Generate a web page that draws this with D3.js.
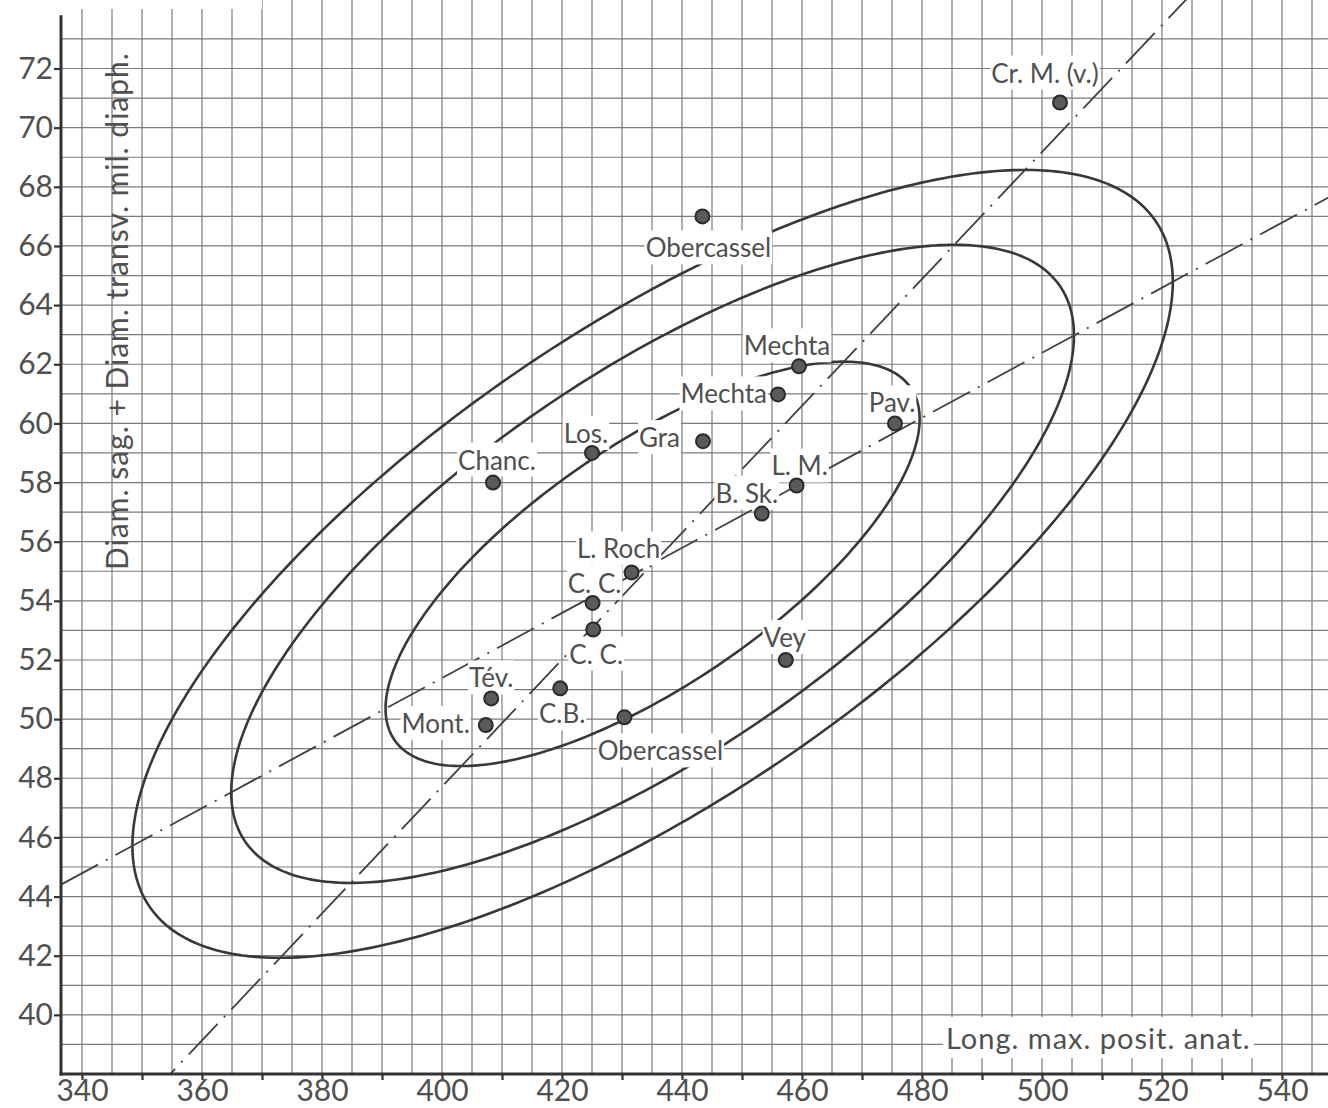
<!DOCTYPE html>
<html>
<head>
<meta charset="utf-8">
<script src="https://cdn.jsdelivr.net/npm/d3@7"></script>
<style>
	body { margin: 0; background: #fff; }
	text { font-family: Lato, "Open Sans", sans-serif; fill: #505050; }
</style>
</head>
<body>
<svg id="chart"></svg>
<script>

	// values
	let names = ["Cr. M. (v.)", "Obercassel", "Mechta", "Mechta", "Pav.", "Gra", "Los.", "Chanc.", "L. M.", "B. Sk.",
		"L. Roch", "C. C.", "C. C.", "Vey", "C.B.", "Tév.", "Mont.", "Obercassel"]
	let longMax = [503, 443.4, 459.5, 456, 475.5, 443.5, 425, 408.5, 459.1, 453.3,
		431.6, 425.1, 425.2, 457.3, 419.7, 408.2, 407.3, 430.4]
	let diamSum = [70.85, 67, 61.93, 60.98, 60, 59.4, 59, 58, 57.9, 56.95,
		54.96, 53.93, 53.03, 52, 51.04, 50.7, 49.8, 50.06]

	// ellipses: mean, sd, correlation, and the three k multipliers
	let meanX = 435.1, meanY = 55.25
	let sdX = 28.9, sdY = 4.44
	let corr = 0.716
	let kValues = [1.54, 2.43, 3.0]

	let xTicks = d3.range(340, 541, 10)
	let yTicks = d3.range(40, 73, 2)
	let xTitle = "Long. max. posit. anat."
	let yTitle = "Diam. sag. + Diam. transv. mil. diaph."

	// label placement next to each dot: dx, dy, anchor (layout only)
	let labelPos = [[-15, -20, "middle"], [6, 41, "middle"], [-12, -11, "middle"], [-11, 9, "end"], [-3, -11, "middle"],
		[-23, 6, "end"], [-6, -10, "middle"], [4, -13, "middle"], [3, -10, "middle"], [-15, -11, "middle"],
		[-13, -14, "middle"], [2, -10, "middle"], [3, 34, "middle"], [-1, -13, "middle"], [2, 35, "middle"],
		[0, -11, "middle"], [-16, 8, "end"], [36, 43, "middle"]]

	let width = 1328, height = 1108
	let left = 61, bottom = 1074

	let chart = d3.select("#chart").attr("width", width).attr("height", height)

	let xScale = d3.scaleLinear().domain([336.5, 548]).range([left, left + 211.5 * 6])
	let yScale = d3.scaleLinear().domain([38, 74.3]).range([bottom, 0.5])

	chart.append("clipPath").attr("id", "plot")
		.append("rect").attr("x", left).attr("y", 0).attr("width", width - left).attr("height", bottom)

	// grid
	let grid = chart.append("g").attr("stroke", "#7a7a7a").attr("stroke-width", 1.2)
	grid.selectAll("line.v").data(d3.range(340, 548, 5)).enter().append("line")
		.attr("x1", d => xScale(d)).attr("x2", d => xScale(d))
		.attr("y1", 0).attr("y2", bottom)
	grid.selectAll("line.h").data(d3.range(39, 74, 1)).enter().append("line")
		.attr("x1", left).attr("x2", width)
		.attr("y1", d => yScale(d)).attr("y2", d => yScale(d))

	let plot = chart.append("g").attr("clip-path", "url(#plot)")

	// concentric ellipses
	let ts = d3.range(0, 2 * Math.PI, Math.PI / 180)
	let ellipseLine = d3.line()
		.x(d => xScale(d[0])).y(d => yScale(d[1]))
		.curve(d3.curveLinearClosed)
	kValues.forEach(function(k){
		let pts = ts.map(t => [meanX + k * sdX * Math.cos(t),
			meanY + k * sdY * (corr * Math.cos(t) + Math.sqrt(1 - corr * corr) * Math.sin(t))])
		plot.append("path").attr("d", ellipseLine(pts))
			.attr("fill", "none").attr("stroke", "#383838").attr("stroke-width", 2.6)
	})

	// the two regression lines
	let slopes = [corr * sdY / sdX, sdY / (corr * sdX)]
	slopes.forEach(function(b){
		let xs = xScale.domain()
		plot.append("line")
			.attr("x1", xScale(xs[0])).attr("y1", yScale(meanY + b * (xs[0] - meanX)))
			.attr("x2", xScale(xs[1])).attr("y2", yScale(meanY + b * (xs[1] - meanX)))
			.attr("stroke", "#404040").attr("stroke-width", 1.8)
			.attr("stroke-dasharray", "42,9,2,9")
	})

	// white boxed text helper
	function boxed(g, pad){
		let bb = g.select("text").node().getBBox()
		g.insert("rect", "text")
			.attr("x", bb.x - pad).attr("y", bb.y - pad)
			.attr("width", bb.width + 2 * pad).attr("height", bb.height + 2 * pad)
			.attr("fill", "#fff")
	}

	// point labels
	names.forEach(function(n, i){
		let g = chart.append("g")
		g.append("text")
			.attr("x", xScale(longMax[i]) + labelPos[i][0])
			.attr("y", yScale(diamSum[i]) + labelPos[i][1])
			.attr("text-anchor", labelPos[i][2])
			.style("font-size", "26px")
			.text(n)
		boxed(g, 1)
	})

	// axis titles
	let yt = chart.append("g")
	yt.append("text")
		.attr("transform", "translate(128,311) rotate(-90)")
		.attr("text-anchor", "middle")
		.style("font-size", "30px")
		.style("letter-spacing", "1px")
		.text(yTitle)
	boxed(yt, 3)
	let xt = chart.append("g")
	xt.append("text")
		.attr("x", 946).attr("y", 1049)
		.style("font-size", "29px")
		.style("letter-spacing", "1px")
		.text(xTitle)
	boxed(xt, 3)

	// axes
	let xAxis = d3.axisBottom(xScale).tickValues(xTicks).tickSize(6).tickSizeOuter(0).tickPadding(0)
		.tickFormat(d => d % 20 === 0 ? d : "")
	let yAxis = d3.axisLeft(yScale).tickValues(yTicks).tickSize(7).tickSizeOuter(0).tickPadding(1)

	let xAxisGlyph = chart.append("g").attr("transform", "translate(0," + bottom + ")").call(xAxis)
	let yAxisGlyph = chart.append("g").attr("transform", "translate(" + left + ",0)").call(yAxis)
	;[xAxisGlyph, yAxisGlyph].forEach(function(a){
		a.select(".domain").remove()
		a.selectAll(".tick line").attr("stroke", "#333").attr("stroke-width", 2.2)
		a.selectAll(".tick text").style("font-size", "30px").attr("fill", "#505050")
	})

	chart.append("line")
		.attr("x1", left).attr("x2", left)
		.attr("y1", yScale(73.8)).attr("y2", bottom + 1.5)
		.attr("stroke", "#333").attr("stroke-width", 3)
	chart.append("line")
		.attr("x1", left - 1.5).attr("x2", width)
		.attr("y1", bottom).attr("y2", bottom)
		.attr("stroke", "#333").attr("stroke-width", 3)

	// dots
	chart.selectAll("circle.pt").data(names).enter().append("circle")
		.attr("class", "pt")
		.attr("cx", (d, i) => xScale(longMax[i]))
		.attr("cy", (d, i) => yScale(diamSum[i]))
		.attr("r", 7)
		.attr("fill", "#5a5a5a")
		.attr("stroke", "#2a2a2a")
		.attr("stroke-width", 2)

</script>
</body>
</html>
